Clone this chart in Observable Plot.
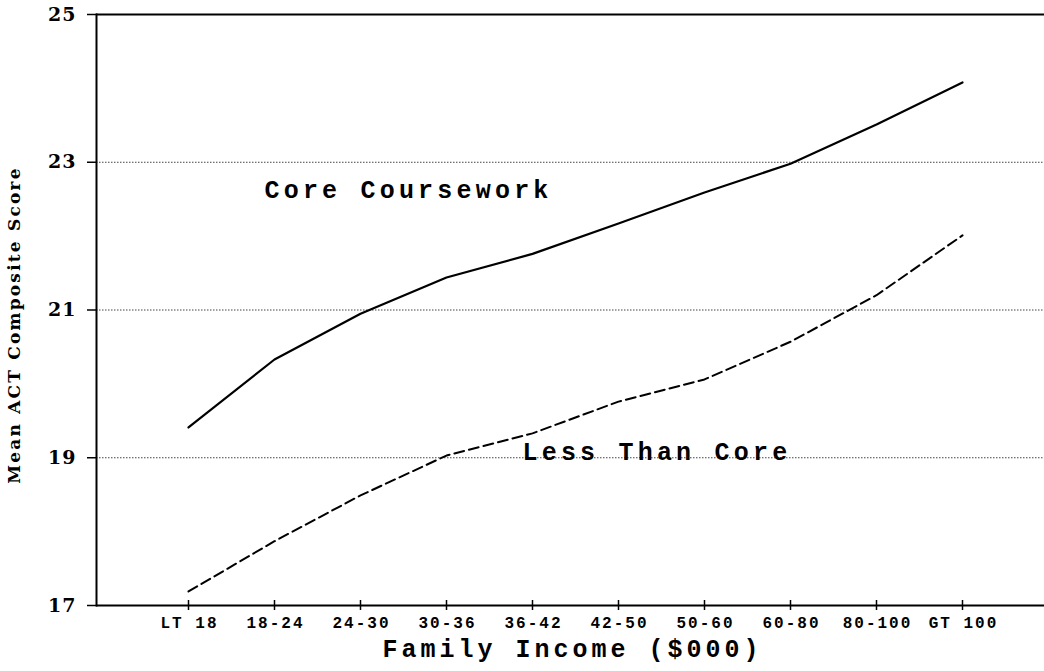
<!DOCTYPE html>
<html>
<head>
<meta charset="utf-8">
<script src="https://cdn.jsdelivr.net/npm/d3@7"></script>
<script src="https://cdn.jsdelivr.net/npm/@observablehq/plot@0.6"></script>
<style>
  html, body { margin: 0; padding: 0; background: #fff; }
</style>
</head>
<body>
<div id="chart"></div>
<script>
// ---- data ----
const incomes = ["LT 18", "18-24", "24-30", "30-36", "36-42", "42-50", "50-60", "60-80", "80-100", "GT 100"];
const coreScores = [19.41, 20.33, 20.95, 21.44, 21.76, 22.17, 22.59, 22.98, 23.51, 24.08];
const lessScores = [17.19, 17.87, 18.49, 19.03, 19.33, 19.76, 20.06, 20.57, 21.20, 22.01];
const yTicks = [17, 19, 21, 23, 25];
const gridValues = [19, 21, 23];
const seriesNames = ["Core Coursework", "Less Than Core"];
const labelAt = [{income: "18-24", score: 22.62}, {income: "36-42", score: 19.08}];
const xTitle = "Family Income ($000)";
const yTitle = "Mean ACT Composite Score";

const core = incomes.map((c, i) => ({income: c, score: coreScores[i]}));
const less = incomes.map((c, i) => ({income: c, score: lessScores[i]}));
const annotations = seriesNames.map((n, i) => ({name: n, ...labelAt[i]}));
const yMin = d3.min(yTicks), yMax = d3.max(yTicks);

const mono = "'Liberation Mono', 'DejaVu Sans Mono', monospace";
const serif = "'DejaVu Serif', 'Liberation Serif', serif";

const chart = Plot.plot({
  width: 1044,
  height: 671,
  marginLeft: 96,
  marginRight: 0,
  marginTop: 14,
  marginBottom: 66,
  style: {background: "#fff", overflow: "visible"},
  x: {type: "point", domain: incomes, range: [184, 965], padding: 0},
  y: {domain: [yMin, yMax]},
  marks: [
    Plot.gridY(gridValues, {stroke: "#444", strokeOpacity: 1, strokeWidth: 1, strokeDasharray: "1.5,1.5"}),
    Plot.ruleY([yMin, yMax], {stroke: "#000", strokeWidth: 2}),
    Plot.frame({anchor: "left", stroke: "#000", strokeWidth: 2}),
    Plot.axisY({ticks: yTicks, tickSize: 9, tickPadding: 11, label: null, fontSize: 19, fontWeight: "bold",
      fontFamily: serif, fill: "#000", strokeWidth: 1.5}),
    Plot.ruleX(incomes, {x: d => d, y1: yMin, y2: yMin, insetTop: -5, insetBottom: -5, stroke: "#000", strokeWidth: 1.5}),
    Plot.axisX({tickSize: 0, tickPadding: 11, dx: 1, label: null, fontSize: 16, fontWeight: "bold",
      fontFamily: mono, fill: "#000"}),
    Plot.line(core, {x: "income", y: "score", stroke: "#000", strokeWidth: 2.2}),
    Plot.line(less, {x: "income", y: "score", stroke: "#000", strokeWidth: 2, strokeDasharray: "10,5"}),
    Plot.text(annotations, {x: "income", y: "score", text: "name", textAnchor: "start", dx: -10,
      fontSize: 25, fontWeight: "bold", fontFamily: mono, fill: "#000"}),
    Plot.text([xTitle], {frameAnchor: "bottom", dy: 51, dx: 2, fontSize: 25, fontWeight: "bold",
      fontFamily: mono, fill: "#000"}),
    Plot.text([yTitle], {frameAnchor: "left", textAnchor: "middle", rotate: -90, dx: -82, dy: 15, fontSize: 17, fontWeight: "bold",
      fontFamily: serif, fill: "#000"})
  ]
});
const svg = d3.select(chart);
const spacing = new Map([
  ...incomes.map(c => [c, "2px"]),
  ...seriesNames.map(n => [n, "4.2px"]),
  [xTitle, "4px"],
  [yTitle, "2.2px"],
  ...yTicks.map(t => [String(t), "1px"])
]);
svg.selectAll("text").each(function() {
  const s = spacing.get(this.textContent);
  if (s) d3.select(this).style("letter-spacing", s);
});
document.getElementById("chart").appendChild(chart);
</script>
</body>
</html>
